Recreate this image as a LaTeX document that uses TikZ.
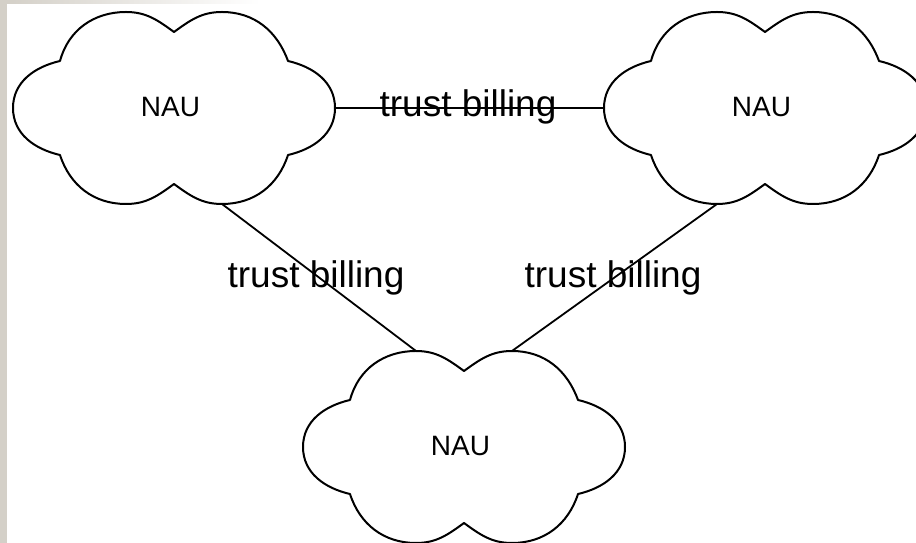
\documentclass[tikz,border=0pt]{standalone}
\usepackage{fontspec}
\setmainfont{Liberation Sans}
\definecolor{winframe}{RGB}{212,208,200}
\tikzset{
  cloudline/.style={draw=black, line width=2pt, line join=round},
  link/.style={draw=black, line width=1.8pt},
  nautext/.style={inner sep=0pt, font=\fontsize{28}{30}\selectfont},
  lbl/.style={inner sep=0pt, font=\fontsize{37}{40}\selectfont},
  % cloud outline with named attachment points around its centre
  nau/.pic={
    \draw[cloudline]
      (-114,47) to[out=75,in=180] (-48,96) to[out=0,in=144] (0,76)
      to[out=36,in=180] (48,96) to[out=0,in=110] (114,47)
      to[out=-13,in=90] (161,0) to[out=-90,in=13] (114,-47)
      to[out=252,in=0] (48,-96) to[out=180,in=-36] (0,-76)
      to[out=216,in=0] (-48,-96) to[out=180,in=-72] (-114,-47)
      to[out=167,in=-90] (-161,0) to[out=90,in=193] cycle;
    \node[nautext] (-text) at (-3.5,1) {NAU};
    \coordinate (-e) at (161,0);
    \coordinate (-w) at (-161,0);
    \coordinate (-nw) at (-48,96);
    \coordinate (-ne) at (48,96);
    \coordinate (-sw) at (-48,-96);
    \coordinate (-se) at (48,-96);
  }
}
\begin{document}
\begin{tikzpicture}[x=1pt,y=1pt]
  \useasboundingbox (0,0) rectangle (916,543);
  % window frame edges
  \fill[winframe] (0,0) rectangle (7,543);
  \shade[left color=winframe, right color=white] (7,539) rectangle (260,543);

  % the three clouds
  \pic (L) at (174,435) {nau};
  \pic (R) at (765,435) {nau};
  \pic (B) at (464,96) {nau};

  % connections
  \draw[link] (L-e) -- (R-w);
  \draw[link] (L-se) -- (B-nw);
  \draw[link] (R-sw) -- (B-ne);

  % connection labels
  \node[lbl, anchor=base] (top) at (468,426) {trust billing};
  \node[lbl, anchor=base] (left) at (316,255) {trust billing};
  \node[lbl, anchor=base] (right) at (613,255) {trust billing};
\end{tikzpicture}
\end{document}
